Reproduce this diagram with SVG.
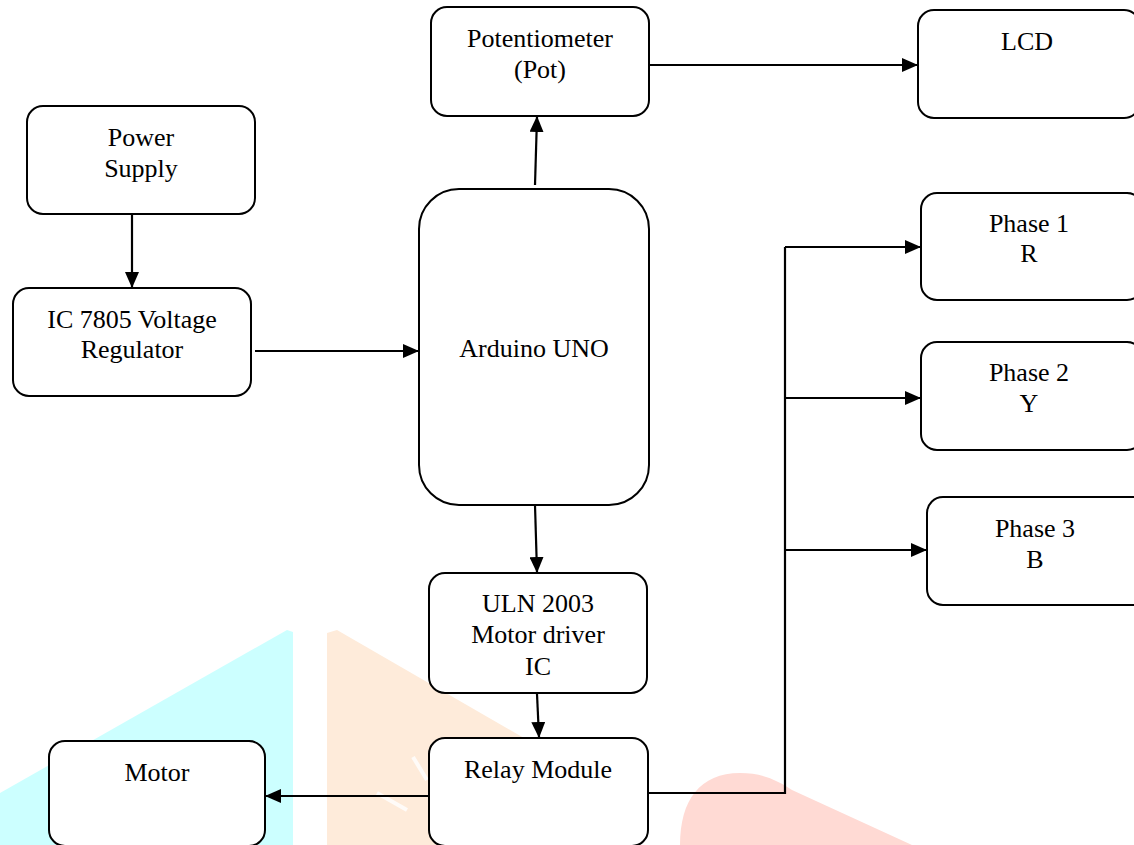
<svg xmlns="http://www.w3.org/2000/svg" width="1134" height="845" viewBox="0 0 1134 845">
<style>
.box{fill:#fff;stroke:#000;stroke-width:2}
.t{font-family:'Liberation Serif','Times New Roman','DejaVu Serif',serif;font-size:26px;fill:#000;text-anchor:middle}
.c{fill:none;stroke:#000;stroke-width:2.2}
</style>
<defs>
<marker id="ah" markerUnits="userSpaceOnUse" markerWidth="16" markerHeight="14" refX="15" refY="7" orient="auto">
<path d="M0,0 L16,7 L0,14 Z" fill="#000"/>
</marker>
</defs>
<rect width="1134" height="845" fill="#fff"/>
<g id="watermark">
<path d="M0,793 L287,630 L293,632 L293,845 L0,845 Z" fill="#CCFFFF"/>
<path d="M327,845 L327,633 L337,630 L640,805 L640,845 Z" fill="#FEEBDA"/>
<path d="M413,757 L427,780 M377,793 L407,810" stroke="#fff" stroke-width="4" fill="none" opacity="0.8"/>
<path d="M680,845 C680,800 700,773 740,773 C762,773 777,780 792,790 L912,845 Z" fill="#FFDAD4"/>
</g>
<g id="connectors">
<line class="c" x1="132" y1="214" x2="132" y2="287" marker-end="url(#ah)"/>
<line class="c" x1="255" y1="351" x2="418" y2="351" marker-end="url(#ah)"/>
<line class="c" x1="535" y1="185" x2="537" y2="117" marker-end="url(#ah)"/>
<line class="c" x1="649" y1="65" x2="917" y2="65" marker-end="url(#ah)"/>
<line class="c" x1="535" y1="505" x2="537" y2="572" marker-end="url(#ah)"/>
<line class="c" x1="537" y1="694" x2="539" y2="737" marker-end="url(#ah)"/>
<line class="c" x1="429" y1="796" x2="266" y2="796" marker-end="url(#ah)"/>
<polyline class="c" points="648,793 785,793 785,247"/>
<line class="c" x1="785" y1="247" x2="920" y2="247" marker-end="url(#ah)"/>
<line class="c" x1="785" y1="398" x2="920" y2="398" marker-end="url(#ah)"/>
<line class="c" x1="785" y1="550" x2="926" y2="550" marker-end="url(#ah)"/>
</g>
<g id="power-supply">
<rect class="box" x="27" y="106" width="228" height="108" rx="16"/>
<text class="t" x="141" y="146">Power</text>
<text class="t" x="141" y="177">Supply</text>
</g>
<g id="ic7805">
<rect class="box" x="13" y="288" width="238" height="108" rx="16"/>
<text class="t" x="132" y="328">IC 7805 Voltage</text>
<text class="t" x="132" y="358">Regulator</text>
</g>
<g id="potentiometer">
<rect class="box" x="431" y="7" width="218" height="109" rx="16"/>
<text class="t" x="540" y="47">Potentiometer</text>
<text class="t" x="540" y="78">(Pot)</text>
</g>
<g id="lcd">
<rect class="box" x="918" y="10" width="222" height="108" rx="16"/>
<text class="t" x="1027" y="50">LCD</text>
</g>
<g id="arduino">
<rect class="box" x="419" y="189" width="230" height="316" rx="40"/>
<text class="t" x="534" y="357">Arduino UNO</text>
</g>
<g id="phase1">
<rect class="box" x="921" y="193" width="222" height="107" rx="16"/>
<text class="t" x="1029" y="232">Phase 1</text>
<text class="t" x="1029" y="262">R</text>
</g>
<g id="phase2">
<rect class="box" x="921" y="342" width="222" height="108" rx="16"/>
<text class="t" x="1029" y="381">Phase 2</text>
<text class="t" x="1029" y="412">Y</text>
</g>
<g id="phase3">
<rect class="box" x="927" y="497" width="222" height="108" rx="16"/>
<text class="t" x="1035" y="537">Phase 3</text>
<text class="t" x="1035" y="568">B</text>
</g>
<g id="uln2003">
<rect class="box" x="429" y="573" width="218" height="120" rx="16"/>
<text class="t" x="538" y="612">ULN 2003</text>
<text class="t" x="538" y="643">Motor driver</text>
<text class="t" x="538" y="675">IC</text>
</g>
<g id="relay">
<rect class="box" x="429" y="738" width="219" height="108" rx="16"/>
<text class="t" x="538" y="778">Relay Module</text>
</g>
<g id="motor">
<rect class="box" x="49" y="741" width="216" height="105" rx="16"/>
<text class="t" x="157" y="781">Motor</text>
</g>
</svg>
